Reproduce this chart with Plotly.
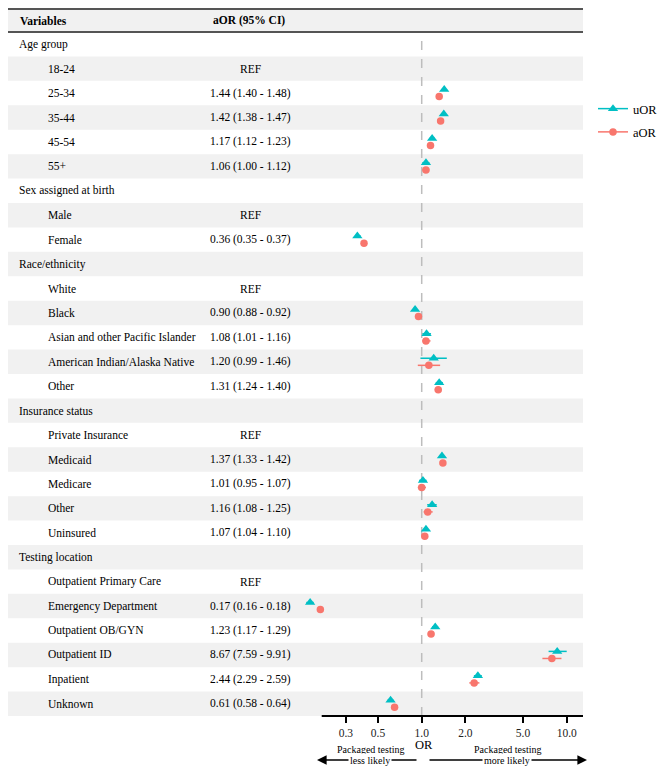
import plotly.graph_objects as go

# ---------------- data ----------------
row_labels = ["Age group", "18-24", "25-34", "35-44", "45-54", "55+",
              "Sex assigned at birth", "Male", "Female",
              "Race/ethnicity", "White", "Black", "Asian and other Pacific Islander",
              "American Indian/Alaska Native", "Other",
              "Insurance status", "Private Insurance", "Medicaid", "Medicare", "Other", "Uninsured",
              "Testing location", "Outpatient Primary Care", "Emergency Department",
              "Outpatient OB/GYN", "Outpatient ID", "Inpatient", "Unknown"]
row_is_group = [True, False, False, False, False, False,
                True, False, False,
                True, False, False, False, False, False,
                True, False, False, False, False, False,
                True, False, False, False, False, False, False]
aor_text = ["", "REF", "1.44 (1.40 - 1.48)", "1.42 (1.38 - 1.47)", "1.17 (1.12 - 1.23)", "1.06 (1.00 - 1.12)",
            "", "REF", "0.36 (0.35 - 0.37)",
            "", "REF", "0.90 (0.88 - 0.92)", "1.08 (1.01 - 1.16)", "1.20 (0.99 - 1.46)", "1.31 (1.24 - 1.40)",
            "", "REF", "1.37 (1.33 - 1.42)", "1.01 (0.95 - 1.07)", "1.16 (1.08 - 1.25)", "1.07 (1.04 - 1.10)",
            "", "REF", "0.17 (0.16 - 0.18)", "1.23 (1.17 - 1.29)", "8.67 (7.59 - 9.91)", "2.44 (2.29 - 2.59)",
            "0.61 (0.58 - 0.64)"]

# point estimates (None = no point drawn)
uor_est = [None, None, 1.43, 1.42, 1.18, 1.07, None, None, 0.36, None, None, 0.90, 1.08, 1.21, 1.32,
           None, None, 1.38, 1.02, 1.18, 1.07, None, None, 0.17, 1.24, 8.6, 2.44, 0.61]
uor_lo = [None, None, 1.40, 1.38, 1.13, 1.01, None, None, 0.35, None, None, 0.88, 1.01, 0.98, 1.25,
          None, None, 1.33, 0.96, 1.09, 1.04, None, None, 0.16, 1.18, 7.5, 2.29, 0.58]
uor_hi = [None, None, 1.47, 1.46, 1.23, 1.13, None, None, 0.38, None, None, 0.92, 1.16, 1.49, 1.40,
          None, None, 1.42, 1.08, 1.27, 1.10, None, None, 0.18, 1.30, 10.0, 2.60, 0.64]

aor_est = [None, None, 1.32, 1.35, 1.15, 1.07, None, None, 0.40, None, None, 0.95, 1.07, 1.12, 1.30,
           None, None, 1.40, 1.00, 1.10, 1.05, None, None, 0.20, 1.16, 7.9, 2.30, 0.65]
aor_lo = [None, None, 1.28, 1.31, 1.10, 1.01, None, None, 0.39, None, None, 0.93, 1.01, 0.94, 1.23,
          None, None, 1.35, 0.94, 1.03, 1.02, None, None, 0.19, 1.10, 6.8, 2.13, 0.62]
aor_hi = [None, None, 1.36, 1.40, 1.21, 1.13, None, None, 0.42, None, None, 0.97, 1.15, 1.34, 1.37,
          None, None, 1.45, 1.07, 1.19, 1.08, None, None, 0.21, 1.22, 9.2, 2.50, 0.68]

tick_vals = [0.3, 0.5, 1.0, 2.0, 5.0, 10.0]
tick_text = ["0.3", "0.5", "1.0", "2.0", "5.0", "10.0"]

# ---------------- layout geometry (pixels) ----------------
W, H = 657, 772
PL, PR = 8, 583          # plot area left/right
PT, PB = 32, 716         # plot area top/bottom
PX_PER_DEC = 145.0
X_ONE = 421.7            # pixel of OR = 1
xr = [(PL - X_ONE) / PX_PER_DEC, (PR - X_ONE) / PX_PER_DEC]

def px(xp):
    return (xp - PL) / (PR - PL)

def py(yp):
    return (PB - yp) / (PB - PT)

n = len(row_labels)
OFF = 0.145
FONT = "Liberation Serif"
FS = 11.5
TEAL = "#00BFC4"
SALMON = "#F8766D"


def series(est, lo, hi, off):
    xs, ys, ep, em = [], [], [], []
    for i, (e, l, h) in enumerate(zip(est, lo, hi)):
        if e is None:
            continue
        xs.append(e)
        ys.append(i + off)
        ep.append(h - e)
        em.append(e - l)
    return xs, ys, ep, em


fig = go.Figure()

ux, uy, uep, uem = series(uor_est, uor_lo, uor_hi, -OFF)
ax_, ay_, aep, aem = series(aor_est, aor_lo, aor_hi, OFF)

fig.add_trace(go.Scatter(
    x=ux, y=uy, mode="markers", showlegend=False,
    marker=dict(symbol="triangle-up", size=9, color=TEAL),
    error_x=dict(type="data", array=uep, arrayminus=uem, color=TEAL, thickness=1.5, width=0),
))
fig.add_trace(go.Scatter(
    x=ax_, y=ay_, mode="markers", showlegend=False,
    marker=dict(symbol="circle", size=7.5, color=SALMON),
    error_x=dict(type="data", array=aep, arrayminus=aem, color=SALMON, thickness=1.5, width=0),
))
# legend entries
fig.add_trace(go.Scatter(x=[None], y=[None], mode="lines+markers", name="uOR", legendgroup="u",
                         marker=dict(symbol="triangle-up", size=9, color=TEAL),
                         line=dict(color=TEAL, width=1.5)))
fig.add_trace(go.Scatter(x=[None], y=[None], mode="lines+markers", name="aOR", legendgroup="a",
                         marker=dict(symbol="circle", size=7.5, color=SALMON),
                         line=dict(color=SALMON, width=1.5)))

shapes = []
# row shading
for i in range(n):
    if i % 2 == 1:
        shapes.append(dict(type="rect", xref="paper", yref="y", x0=0, x1=1,
                           y0=i - 0.5, y1=i + 0.5, fillcolor="#F1F1F1",
                           line=dict(width=0), layer="below"))
# header background and rules
shapes.append(dict(type="rect", xref="paper", yref="paper", x0=0, x1=1,
                   y0=py(32), y1=py(9), fillcolor="#F1F1F1", line=dict(width=0), layer="below"))
shapes.append(dict(type="line", xref="paper", yref="paper", x0=0, x1=1,
                   y0=py(9), y1=py(9), line=dict(color="#555555", width=2)))
shapes.append(dict(type="line", xref="paper", yref="paper", x0=0, x1=1,
                   y0=py(32), y1=py(32), line=dict(color="#555555", width=2)))
# reference line at OR = 1
shapes.append(dict(type="line", xref="x", yref="paper", x0=1, x1=1, y0=0, y1=1,
                   line=dict(color="#BDBDBD", width=1.5, dash="dash"), layer="below"))
# x axis line
shapes.append(dict(type="line", xref="x", yref="paper",
                   x0=10 ** ((321.7 - X_ONE) / PX_PER_DEC), x1=10 ** ((PR - X_ONE) / PX_PER_DEC),
                   y0=0, y1=0, line=dict(color="black", width=2)))

ann = []
# header texts
ann.append(dict(x=px(18), y=py(21), xref="paper", yref="paper", text="<b>Variables</b>",
                showarrow=False, xanchor="left", yanchor="middle", font=dict(size=FS)))
ann.append(dict(x=px(248.5), y=py(21), xref="paper", yref="paper", text="<b>aOR (95% CI)</b>",
                showarrow=False, xanchor="center", yanchor="middle", font=dict(size=FS)))
for i in range(n):
    xl = 17 if row_is_group[i] else 46
    ann.append(dict(x=px(xl), y=i, xref="paper", yref="y", text=row_labels[i],
                    showarrow=False, xanchor="left", yanchor="middle", font=dict(size=FS)))
    if aor_text[i]:
        ann.append(dict(x=px(250), y=i, xref="paper", yref="y", text=aor_text[i],
                        showarrow=False, xanchor="center", yanchor="middle", font=dict(size=FS)))

# direction arrows
ARROW_Y = py(760)
ann.append(dict(x=px(317), y=ARROW_Y, xref="paper", yref="paper", text="", showarrow=True,
                ax=101, ay=0, arrowhead=2, arrowsize=1.2, arrowwidth=1.6, arrowcolor="black"))
ann.append(dict(x=px(587), y=ARROW_Y, xref="paper", yref="paper", text="", showarrow=True,
                ax=-159, ay=0, arrowhead=2, arrowsize=1.2, arrowwidth=1.6, arrowcolor="black"))
ann.append(dict(x=px(424), y=py(745), xref="paper", yref="paper", text="OR", showarrow=False,
                xanchor="center", yanchor="middle", font=dict(size=12.5)))
for cx, word in [(370, "less likely"), (507, "more likely")]:
    ann.append(dict(x=px(cx), y=py(749), xref="paper", yref="paper", text="Packaged testing",
                    showarrow=False, xanchor="center", yanchor="middle", font=dict(size=10)))
    ann.append(dict(x=px(cx), y=ARROW_Y, xref="paper", yref="paper", text=word,
                    showarrow=False, xanchor="center", yanchor="middle", font=dict(size=10),
                    bgcolor="white", borderpad=1))

fig.update_layout(
    width=W, height=H,
    margin=dict(l=PL, r=W - PR, t=PT, b=H - PB, pad=0, autoexpand=False),
    paper_bgcolor="white", plot_bgcolor="rgba(0,0,0,0)",
    font=dict(family=FONT, size=FS, color="black"),
    shapes=shapes, annotations=ann,
    legend=dict(xref="container", yref="container", x=593 / W, y=1 - 94 / H,
                xanchor="left", yanchor="top", tracegroupgap=4,
                font=dict(size=12.5), bgcolor="rgba(0,0,0,0)", itemwidth=30),
    xaxis=dict(type="log", range=xr, showgrid=False, zeroline=False, showline=False,
               tickvals=tick_vals, ticktext=tick_text, ticks="outside", ticklen=6,
               tickwidth=2, tickcolor="black", tickfont=dict(size=FS, color="#222222")),
    yaxis=dict(range=[n - 0.5, -0.5], showgrid=False, zeroline=False, showline=False,
               showticklabels=False, ticks=""),
)

fig.write_html("out.html")
